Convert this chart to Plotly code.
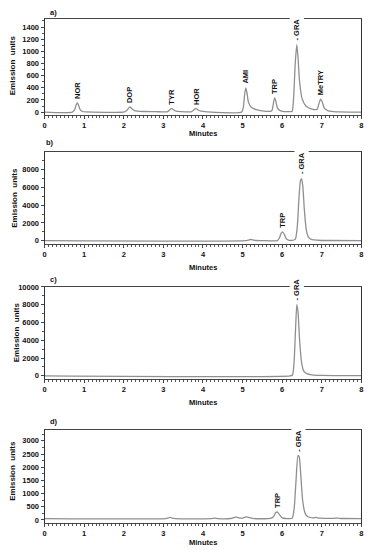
import plotly.graph_objects as go

# ---------------- data ----------------
# panel a
a_t = [0.0, 0.70, 0.76, 0.80, 0.83, 0.86, 0.90, 0.96, 1.05, 2.02, 2.08, 2.13, 2.16, 2.20, 2.26, 2.35, 2.5, 2.8,
       3.10, 3.15, 3.19, 3.22, 3.26, 3.32, 3.45, 3.70, 3.75, 3.80, 3.84, 3.88, 3.95, 4.10,
       4.98, 5.02, 5.05, 5.08, 5.11, 5.15, 5.22, 5.35, 5.5, 5.72, 5.75, 5.78, 5.81, 5.84, 5.88, 5.95, 6.05, 6.2,
       6.25, 6.29, 6.33, 6.37, 6.40, 6.44, 6.50, 6.6, 6.75, 6.88, 6.92, 6.97, 7.01, 7.06, 7.15, 7.3, 7.45, 8.0]
a_v = [0, 0, 40, 120, 150, 110, 40, 10, 3, 5, 30, 70, 85, 60, 30, 15, 10, 8,
       6, 30, 55, 58, 35, 15, 8, 6, 25, 52, 55, 35, 15, 5,
       3, 80, 280, 400, 320, 160, 80, 40, 20, 15, 40, 150, 235, 180, 70, 25, 10, 8,
       10, 250, 800, 1110, 900, 500, 230, 100, 50, 45, 120, 215, 170, 70, 25, 10, 5, 0]
a_names = ["NOR", "DOP", "TYR", "HOR", "AMI", "TRP", "- GRA", "MeTRY"]
a_pk_t = [0.83, 2.16, 3.22, 3.84, 5.08, 5.81, 6.37, 6.97]
a_pk_v = [150, 85, 58, 55, 400, 235, 1110, 215]

# panel b
b_t = [0.0, 5.1, 5.15, 5.2, 5.25, 5.32, 5.5, 5.88, 5.93, 5.97, 6.01, 6.05, 6.10, 6.16, 6.25, 6.33, 6.38,
       6.42, 6.46, 6.49, 6.52, 6.56, 6.61, 6.67, 6.75, 6.9, 7.2, 8.0]
b_v = [0, 5, 60, 150, 80, 20, 10, 15, 300, 800, 1000, 750, 250, 60, 30, 150, 1500,
       4500, 6700, 7000, 6200, 3500, 1200, 350, 120, 50, 20, 10]
b_names = ["TRP", "- GRA"]
b_pk_t = [6.01, 6.49]
b_pk_v = [1000, 7000]

# panel c
c_t = [0.0, 6.2, 6.26, 6.30, 6.34, 6.37, 6.40, 6.44, 6.49, 6.55, 6.62, 6.75, 7.0, 8.0]
c_v = [0, 0, 100, 1500, 5500, 8000, 7200, 4000, 1500, 500, 250, 120, 50, 20]
c_names = ["- GRA"]
c_pk_t = [6.37]
c_pk_v = [8000]

# panel d
d_t = [0.0, 3.05, 3.12, 3.17, 3.22, 3.3, 4.2, 4.3, 4.38, 4.7, 4.78, 4.83, 4.9, 5.0, 5.1, 5.15, 5.25,
       5.7, 5.78, 5.84, 5.88, 5.93, 6.0, 6.1, 6.25, 6.30, 6.35, 6.40, 6.43, 6.47, 6.52, 6.58, 6.65,
       6.8, 6.85, 6.9, 7.3, 7.4, 7.5, 8.0]
d_v = [50, 50, 70, 100, 70, 50, 50, 70, 50, 55, 90, 110, 80, 70, 120, 100, 60,
       55, 120, 280, 300, 200, 80, 55, 60, 400, 1500, 2450, 2400, 1700, 700, 250, 120,
       80, 100, 75, 60, 70, 55, 50]
d_names = ["TRP", "- GRA"]
d_pk_t = [5.88, 6.41]
d_pk_v = [300, 2450]

panel_letters = ["a)", "b)", "c)", "d)"]
y_ranges = [[-55, 1530], [-380, 9950], [-370, 10000], [-100, 3410]]
y_ticks = [list(range(0, 1401, 200)), list(range(0, 8001, 2000)), list(range(0, 10001, 2000)),
           list(range(0, 3001, 500))]
y_minor = [100, 1000, 1000, 250]
x_ticks = list(range(0, 9))

# ---------------- layout helpers ----------------
W, H = 371, 550
def px(x):
    return x / W
def py(y):
    return 1 - y / H

# pixel boxes of the plot areas (top, bottom)
boxes = [(15.3, 112.7), (150.0, 242.7), (286.0, 379.3), (430.7, 524.3)]
x_left, x_right = 43.0, 363.3
letter_pos = [(52, 9), (49, 140), (52, 279), (53, 422)]
minutes_y = [131, 266, 403, 544]
ytitle_pos = [(10, 62), (13, 196), (15, 332), (11, 472)]

series = [(a_t, a_v, a_names, a_pk_t, a_pk_v), (b_t, b_v, b_names, b_pk_t, b_pk_v),
          (c_t, c_v, c_names, c_pk_t, c_pk_v), (d_t, d_v, d_names, d_pk_t, d_pk_v)]

fig = go.Figure()
FONT = "Liberation Sans, Arial, sans-serif"
annotations = []
shapes = []
layout = dict(width=W, height=H, margin=dict(l=0, r=0, t=0, b=0), paper_bgcolor="white",
              plot_bgcolor="white", showlegend=False)

for i, (t, v, names, pt, pv) in enumerate(series):
    n = "" if i == 0 else str(i + 1)
    xa, ya = "x" + n, "y" + n
    fig.add_trace(go.Scatter(x=t, y=v, mode="lines", xaxis=xa, yaxis=ya,
                             line=dict(color="#8f8f8f", width=1.3, shape="spline", smoothing=0.6),
                             hoverinfo="skip"))
    top, bot = boxes[i]
    layout["xaxis" + n] = dict(domain=[px(x_left), px(x_right)], anchor=ya, range=[0, 8],
                               tickvals=x_ticks, showline=True, linecolor="#444", linewidth=1,
                               mirror=True, ticks="outside", ticklen=3, tickcolor="#444",
                               minor=dict(dtick=0.1, ticks="outside", ticklen=2, tickcolor="#555"),
                               showgrid=False, zeroline=False,
                               tickfont=dict(family=FONT, size=7.5, color="#111", weight="bold"))
    layout["yaxis" + n] = dict(domain=[py(bot), py(top)], anchor=xa, range=y_ranges[i],
                               tickvals=y_ticks[i], ticktext=[str(k) for k in y_ticks[i]],
                               showline=True, linecolor="#333", linewidth=1,
                               mirror=True, ticks="outside", ticklen=3, tickcolor="#444",
                               minor=dict(dtick=y_minor[i], ticks="outside", ticklen=2, tickcolor="#555"),
                               showgrid=False, zeroline=False,
                               tickfont=dict(family=FONT, size=7.5, color="#111", weight="bold"))
    # panel letter
    lx, ly = letter_pos[i]
    annotations.append(dict(x=px(lx), y=py(ly), xref="paper", yref="paper", text=panel_letters[i],
                            xanchor="center", yanchor="middle",
                            showarrow=False, font=dict(family=FONT, size=7.5, color="#111", weight="bold")))
    annotations.append(dict(x=px(203), y=py(minutes_y[i]), xref="paper", yref="paper", text="Minutes",
                            xanchor="center", yanchor="middle",
                            showarrow=False, font=dict(family=FONT, size=7.5, color="#111", weight="bold")))
    tx, ty = ytitle_pos[i]
    annotations.append(dict(x=px(tx), y=py(ty), xref="paper", yref="paper", text="Emission  units",
                            textangle=-90, showarrow=False, xanchor="center", yanchor="middle",
                            font=dict(family=FONT, size=8, color="#111", weight="bold")))
    # peak labels
    for name, xx, yy in zip(names, pt, pv):
        annotations.append(dict(x=xx, y=yy, xref=xa, yref=ya, text=name, textangle=-90,
                                showarrow=False, yanchor="bottom", xanchor="center", yshift=2,
                                font=dict(family=FONT, size=7.5, color="#111", weight="bold")))
        if "GRA" in name:
            shapes.append(dict(type="rect", xref=xa, yref="paper", x0=xx - 0.18, x1=xx + 0.18,
                               y0=py(top) - 0.004, y1=py(top) + 0.004, fillcolor="white",
                               line=dict(width=0), layer="above"))

layout["annotations"] = annotations
layout["shapes"] = shapes
fig.update_layout(**layout)
fig.write_html("out.html", config={"displayModeBar": False},
               post_script="document.body.style.margin='0px';")
